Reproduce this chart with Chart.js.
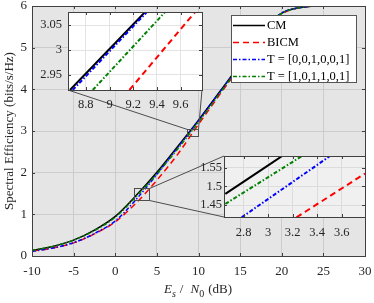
<!DOCTYPE html>
<html>
<head>
<meta charset="utf-8">
<script src="https://cdn.jsdelivr.net/npm/chart.js@4.4.1/dist/chart.umd.min.js"></script>
<style>
  html, body { margin: 0; padding: 0; background: #ffffff; }
  #wrap { position: relative; width: 374px; height: 303px; overflow: hidden; }
  #wrap canvas { position: absolute; }
</style>
</head>
<body>
<div id="wrap">
  <canvas id="main" width="374" height="303"></canvas>
  <canvas id="zoomHi" width="171" height="103"></canvas>
  <canvas id="zoomLo" width="178" height="86"></canvas>
</div>
<script>
// main curves, Es/N0 in dB
const snrDb  = [-10, -7.5, -5, -2.5, 0, 2.5, 5, 7.5, 10, 12.5, 15, 17.5, 20, 22.5, 25, 27.5, 30];
const cmSE   = [0.135, 0.23, 0.38, 0.62, 0.95, 1.45, 2.01, 2.63, 3.26, 3.93, 4.61, 5.38, 5.83, 5.97, 6.0, 6.0, 6.0];
const bicmSE = [0.115, 0.19, 0.315, 0.53, 0.82, 1.27, 1.82, 2.44, 3.16, 3.86, 4.55, 5.33, 5.81, 5.97, 6.0, 6.0, 6.0];
const t1SE   = [0.115, 0.19, 0.32, 0.54, 0.84, 1.355, 1.96, 2.60, 3.25, 3.92, 4.60, 5.37, 5.83, 5.97, 6.0, 6.0, 6.0];
const t2SE   = [0.135, 0.23, 0.38, 0.61, 0.93, 1.425, 1.97, 2.57, 3.21, 3.89, 4.57, 5.36, 5.82, 5.97, 6.0, 6.0, 6.0];

// zoomed views, [x, y] points
const hiCM   = [[8.667, 2.92], [9.300, 3.076]];
const hiBICM = [[9.168, 2.92], [9.722, 3.076]];
const hiT1   = [[8.690, 2.92], [9.315, 3.076]];
const hiT2   = [[8.859, 2.92], [9.469, 3.076]];
const loCM   = [[2.651, 1.480], [3.115, 1.581]];
const loBICM = [[3.231, 1.417], [3.790, 1.534]];
const loT1   = [[2.784, 1.417], [3.505, 1.581]];
const loT2   = [[2.651, 1.453], [3.277, 1.581]];

const seriesNames = ['CM', 'BICM', 'T = [0,0,1,0,0,1]', 'T = [1,0,1,1,0,1]'];

// tick labels
const mainXTicks = [-10, -5, 0, 5, 10, 15, 20, 25, 30];
const mainYTicks = [0, 1, 2, 3, 4, 5, 6];
const hiXTicks = [8.8, 9, 9.2, 9.4, 9.6];
const hiYTicks = [2.95, 3, 3.05];
const loXTicks = [2.8, 3, 3.2, 3.4, 3.6];
const loYTicks = [1.45, 1.5, 1.55];

// zoom windows marked on the main axes (data units)
const hiRegion = { x: [8.62, 9.94], y: [2.88, 3.05] };
const loRegion = { x: [2.25, 4.05], y: [1.34, 1.63] };

const lineStyles = [
    { color: '#000000', dash: [] },
    { color: '#ff0000', dash: [6, 4] },
    { color: '#0000ff', dash: [4, 2, 1.5, 2] },
    { color: '#008000', dash: [4, 2, 1.5, 2] }
];
const serif = 'Liberation Serif';
const ink = '#262626';

// pixel boxes of the inset plot areas
const hiBox = { left: 68, top: 12, right: 202, bottom: 90 };
const loBox = { left: 224, top: 156, right: 365, bottom: 217 };

function pts(xs, ys) { return xs.map((x, i) => ({ x: x, y: ys[i] })); }
function pairPts(p) { return p.map(([x, y]) => ({ x: x, y: y })); }

function lineSet(i, data, width, clip) {
    const ds = {
        label: seriesNames[i],
        data: data,
        borderColor: lineStyles[i].color,
        borderDash: lineStyles[i].dash,
        borderWidth: width,
        pointRadius: 0,
        fill: false,
        cubicInterpolationMode: 'monotone',
        order: 4 - i
    };
    if (clip !== undefined) ds.clip = clip;
    return ds;
}

function makeScale(min, max, tickVals, fitSize, isX, pad, gridColor, fontSize) {
    return {
        type: 'linear', min: min, max: max,
        afterBuildTicks: s => { s.ticks = tickVals.map(v => ({ value: v })); },
        afterFit: s => {
            if (isX) { s.height = fitSize; s.paddingLeft = 0; s.paddingRight = 0; }
            else { s.width = fitSize; s.paddingTop = 0; s.paddingBottom = 0; }
        },
        grid: { color: gridColor, drawTicks: false, lineWidth: 1 },
        border: { display: false },
        ticks: {
            color: ink,
            font: { family: serif, size: fontSize },
            padding: pad,
            maxRotation: 0, minRotation: 0, autoSkip: false,
            callback: v => String(v)
        }
    };
}

// background fill, box and inward tick marks (matlab style)
const framePlugin = {
    id: 'frame',
    beforeDraw(chart, args, opts) {
        const a = chart.chartArea, c = chart.ctx;
        c.save();
        c.fillStyle = opts.bg;
        c.fillRect(a.left, a.top, a.right - a.left, a.bottom - a.top);
        c.restore();
    },
    afterDatasetsDraw(chart, args, opts) {
        const a = chart.chartArea, c = chart.ctx, L = opts.tick;
        const sx = chart.scales.x, sy = chart.scales.y;
        c.save();
        c.strokeStyle = opts.edge;
        c.lineWidth = 1;
        c.beginPath();
        sx.ticks.forEach(t => {
            const p = Math.round(sx.getPixelForValue(t.value)) + 0.5;
            c.moveTo(p, a.bottom); c.lineTo(p, a.bottom - L);
            c.moveTo(p, a.top); c.lineTo(p, a.top + L);
        });
        sy.ticks.forEach(t => {
            const p = Math.round(sy.getPixelForValue(t.value)) + 0.5;
            c.moveTo(a.left, p); c.lineTo(a.left + L, p);
            c.moveTo(a.right, p); c.lineTo(a.right - L, p);
        });
        c.stroke();
        c.strokeRect(Math.round(a.left) + 0.5, Math.round(a.top) + 0.5,
            Math.round(a.right - a.left), Math.round(a.bottom - a.top));
        c.restore();
    }
};

function drawXTitle(c, cx, base) {
    const big = '13px "' + serif + '"', bigIt = 'italic 13px "' + serif + '"';
    const small = '10px "' + serif + '"', smallIt = 'italic 10px "' + serif + '"';
    const parts = [
        { t: 'E', f: bigIt, dy: 0, gap: 0 },
        { t: 's', f: smallIt, dy: 4, gap: 0 },
        { t: '/', f: big, dy: 0, gap: 4 },
        { t: 'N', f: bigIt, dy: 0, gap: 7 },
        { t: '0', f: small, dy: 4, gap: 0 },
        { t: '(dB)', f: big, dy: 0, gap: 4 }
    ];
    let total = 0;
    parts.forEach(p => { c.font = p.f; p.w = c.measureText(p.t).width; total += p.gap + p.w; });
    let x = cx - total / 2;
    c.textAlign = 'left';
    c.textBaseline = 'alphabetic';
    parts.forEach(p => {
        x += p.gap;
        c.font = p.f;
        c.fillText(p.t, x, base + p.dy);
        x += p.w;
    });
}

const mainDecor = {
    id: 'mainDecor',
    afterDatasetsDraw(chart) {
        const c = chart.ctx, sx = chart.scales.x, sy = chart.scales.y;
        c.save();
        c.strokeStyle = '#4d4d4d';
        c.lineWidth = 1;
        const rect = r => ({
            l: Math.round(sx.getPixelForValue(r.x[0])) + 0.5,
            r: Math.round(sx.getPixelForValue(r.x[1])) + 0.5,
            t: Math.round(sy.getPixelForValue(r.y[1])) + 0.5,
            b: Math.round(sy.getPixelForValue(r.y[0])) + 0.5
        });
        const h = rect(hiRegion), l = rect(loRegion);
        c.strokeRect(h.l, h.t, h.r - h.l, h.b - h.t);
        c.strokeRect(l.l, l.t, l.r - l.l, l.b - l.t);
        c.beginPath();
        c.moveTo(hiBox.left, hiBox.bottom); c.lineTo(h.l, h.t);
        c.moveTo(hiBox.right, hiBox.bottom); c.lineTo(h.r, h.t);
        c.moveTo(l.r, l.t); c.lineTo(loBox.left, loBox.top);
        c.moveTo(l.r, l.b); c.lineTo(loBox.left, loBox.bottom);
        c.stroke();
        c.restore();
    },
    afterDraw(chart) {
        const c = chart.ctx;
        c.save();
        c.fillStyle = ink;
        // axis titles
        drawXTitle(c, 198, 293);
        c.translate(10, 131);
        c.rotate(-Math.PI / 2);
        c.font = '13px "' + serif + '"';
        c.textAlign = 'center';
        c.textBaseline = 'middle';
        c.fillText('Spectral Efficiency (bits/s/Hz)', 0, 0);
        c.setTransform(1, 0, 0, 1, 0, 0);

        // legend
        c.fillStyle = '#ffffff';
        c.fillRect(231, 15, 125, 67);
        c.strokeStyle = '#555555';
        c.lineWidth = 1;
        c.strokeRect(231.5, 15.5, 125, 67);
        c.font = '12.5px "' + serif + '"';
        c.textAlign = 'left';
        c.textBaseline = 'middle';
        seriesNames.forEach((name, i) => {
            const y = 25 + i * 17;
            c.strokeStyle = lineStyles[i].color;
            c.setLineDash(lineStyles[i].dash);
            c.lineWidth = 1.5;
            c.beginPath();
            c.moveTo(233, y + 0.5);
            c.lineTo(265, y + 0.5);
            c.stroke();
            c.setLineDash([]);
            c.fillStyle = '#000000';
            c.fillText(name, 267, y + 1);
        });
        c.restore();
    }
};

new Chart(document.getElementById('main'), {
    type: 'line',
    data: {
        datasets: [
            lineSet(0, pts(snrDb, cmSE), 1.5),
            lineSet(1, pts(snrDb, bicmSE), 1.5),
            lineSet(2, pts(snrDb, t1SE), 1.5),
            lineSet(3, pts(snrDb, t2SE), 1.5)
        ]
    },
    options: {
        responsive: false,
        animation: false,
        devicePixelRatio: 1,
        layout: { padding: { top: 6, right: 9, left: 0, bottom: 0 } },
        plugins: {
            legend: { display: false },
            tooltip: { enabled: false },
            frame: { bg: '#e5e5e5', edge: '#404040', tick: 3 }
        },
        scales: {
            x: makeScale(-10, 30, mainXTicks, 47, true, 8, '#cccccc', 13),
            y: makeScale(0, 6, mainYTicks, 32, false, 5, '#cccccc', 13)
        }
    },
    plugins: [framePlugin, mainDecor]
});

function insetChart(id, box, sets, xr, yr, xt, yt, padX, padY, bg, gridColor) {
    const yW = 36, xH = 24;
    const cv = document.getElementById(id);
    cv.width = yW + (box.right - box.left) + 1;
    cv.height = 1 + (box.bottom - box.top) + xH;
    cv.style.left = (box.left - yW) + 'px';
    cv.style.top = (box.top - 1) + 'px';
    return new Chart(cv, {
        type: 'line',
        data: { datasets: sets.map((s, i) => lineSet(i, pairPts(s), 2, 0)) },
        options: {
            responsive: false,
            animation: false,
            devicePixelRatio: 1,
            layout: { padding: { top: 1, right: 1, left: 0, bottom: 0 } },
            plugins: {
                legend: { display: false },
                tooltip: { enabled: false },
                frame: { bg: bg, edge: '#404040', tick: 3 }
            },
            scales: {
                x: makeScale(xr[0], xr[1], xt, xH, true, padX, gridColor, 12.5),
                y: makeScale(yr[0], yr[1], yt, yW, false, padY, gridColor, 12.5)
            }
        },
        plugins: [framePlugin]
    });
}

insetChart('zoomHi', hiBox, [hiCM, hiBICM, hiT1, hiT2],
    [8.65, 9.78], [2.92, 3.076], hiXTicks, hiYTicks, 7, 6, '#ffffff', '#e3e3e3');
insetChart('zoomLo', loBox, [loCM, loBICM, loT1, loT2],
    [2.64, 3.79], [1.418, 1.581], loXTicks, loYTicks, 8, 2, '#f0f0f0', '#dcdcdc');
</script>
</body>
</html>
